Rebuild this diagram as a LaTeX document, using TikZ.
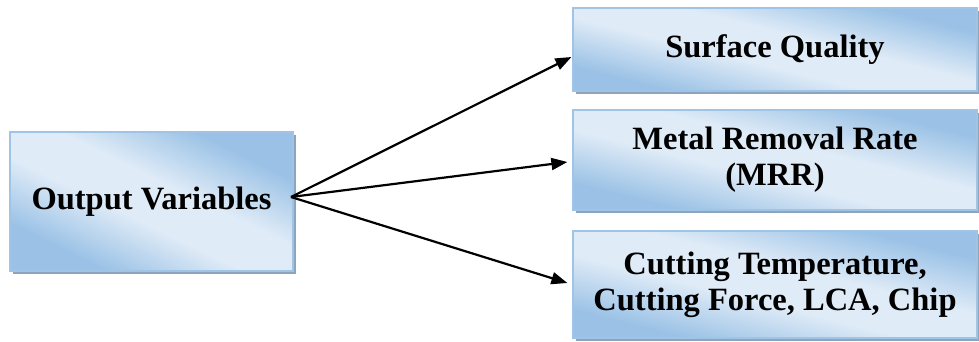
\documentclass[tikz,border=0pt]{standalone}
\usepackage{fontspec}
\setmainfont{Liberation Serif}
\usetikzlibrary{arrows.meta,shadows}
\definecolor{boxdark}{RGB}{155,194,230}
\definecolor{boxlight}{RGB}{223,235,247}
\definecolor{boxline}{RGB}{160,196,230}
\definecolor{boxshadow}{RGB}{140,165,190}
\pgfdeclareverticalshading{boxshade}{100bp}{color(0bp)=(boxdark); color(28bp)=(boxdark);
  color(44bp)=(boxlight); color(56bp)=(boxlight); color(72bp)=(boxdark); color(100bp)=(boxdark)}
\begin{document}
\begin{tikzpicture}[x=1pt,y=-1pt,
  varbox/.style={draw=boxline,line width=1.2pt,shading=boxshade,shading angle=-26,
    drop shadow={shadow xshift=3pt,shadow yshift=-3pt,fill=boxshadow,opacity=1},
    inner sep=0pt,align=center,font=\bfseries\fontsize{32.5}{36}\selectfont},
  widebox/.style={varbox,minimum width=404pt,shading angle=-14},
  fanarrow/.style={line width=2.2pt,-{Triangle[length=16pt,width=12pt]}}]
\useasboundingbox (0,0) rectangle (979,342);
\node[varbox,minimum width=283pt,minimum height=139pt] (out) at (151.5,201.5) {Output Variables};
\node[widebox,minimum height=83pt] (sq) at (775,49.5) {Surface Quality};
\node[widebox,minimum height=100pt] (mrr) at (775,160) {Metal Removal Rate\\(MRR)};
\node[widebox,minimum height=107pt] (ctf) at (775,284.5) {Cutting Temperature,\\Cutting Force, LCA, Chip};
\coordinate (fan) at (291,197);
\draw[fanarrow] (fan) -- ([xshift=-1pt,yshift=-7.5pt]sq.west);
\draw[fanarrow] (fan) -- ([xshift=-5pt,yshift=-2pt]mrr.west);
\draw[fanarrow] (fan) -- ([xshift=-5pt,yshift=1.5pt]ctf.west);
\end{tikzpicture}
\end{document}
